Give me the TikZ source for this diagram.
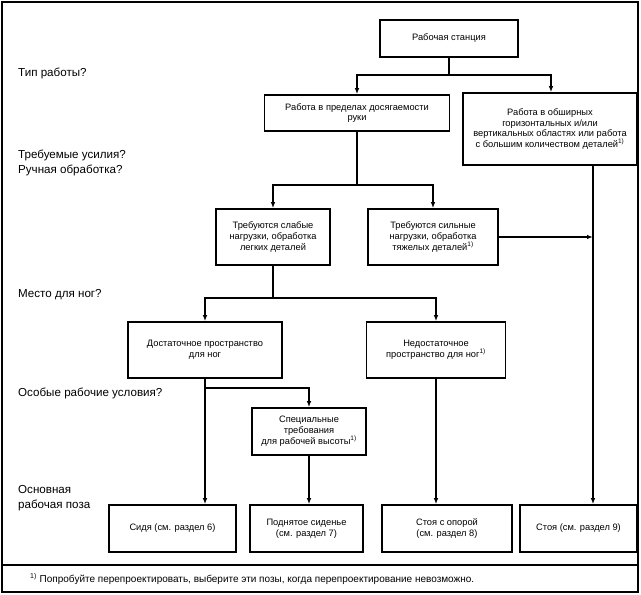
\documentclass[tikz,border=0pt]{standalone}
\usepackage{fontspec}
\setmainfont{Liberation Sans}
\usetikzlibrary{arrows.meta,calc}
\newcommand{\fn}{\textsuperscript{1)}}
\begin{document}
\begin{tikzpicture}[x=1pt,y=-1pt,
  box/.style={draw, line width=1.6pt, align=center, inner sep=2pt,
    font=\fontsize{9.3}{10.8}\selectfont},
  lbl/.style={anchor=west, align=left, inner sep=0pt,
    font=\fontsize{11.6}{14.5}\selectfont},
  conn/.style={line width=1.5pt},
  arr/.style={conn, -{Latex[length=6pt,width=4.5pt]}}]
\useasboundingbox (0,0) rectangle (641,595);
\fill[white] (0,0) rectangle (641,595);
% frame
\draw[line width=1.4pt] (2,2) rectangle (638,592);
\draw[line width=1.4pt] (2,565) -- (638,565);
% boxes
\node[box, minimum width=138pt, minimum height=37pt] (st) at (449,38.5) {Рабочая станция};
\node[box, minimum width=185pt, minimum height=36pt] (b2) at (357,113) {Работа в пределах досягаемости\\руки};
\node[box, minimum width=174pt, minimum height=72pt] (b3) at (550,129) {Работа в обширных\\горизонтальных и/или\\вертикальных областях или работа\\с большим количеством деталей\fn};
\node[box, minimum width=114pt, minimum height=56pt] (lo) at (273,237) {Требуются слабые\\нагрузки, обработка\\легких деталей};
\node[box, minimum width=130pt, minimum height=56pt] (hi) at (433,237) {Требуются сильные\\нагрузки, обработка\\тяжелых деталей\fn};
\node[box, minimum width=154pt, minimum height=56pt] (en) at (205,350) {Достаточное пространство\\для ног};
\node[box, minimum width=139pt, minimum height=56pt] (ne) at (436,350) {Недостаточное\\пространство для ног\fn};
\node[box, minimum width=114pt, minimum height=47pt] (sp) at (309,431.5) {Специальные\\требования\\для рабочей высоты\fn};
\node[box, minimum width=127pt, minimum height=47pt] (s1) at (172.5,528.5) {Сидя (см. раздел 6)};
\node[box, minimum width=113pt, minimum height=47pt] (s2) at (306.5,528.5) {Поднятое сиденье\\(см. раздел 7)};
\node[box, minimum width=130pt, minimum height=47pt] (s3) at (447,528.5) {Стоя с опорой\\(см. раздел 8)};
\node[box, minimum width=117pt, minimum height=47pt] (s4) at (578.5,528.5) {Стоя (см. раздел 9)};
% left labels
\node[lbl] (q1) at (18,73) {Тип работы?};
\node[lbl] (q2) at (18,163) {Требуемые усилия?\\Ручная обработка?};
\node[lbl] (q3) at (18,295) {Место для ног?};
\node[lbl] (q4) at (18,393) {Особые рабочие условия?};
\node[lbl] (q5) at (18,498) {Основная\\рабочая поза};
% footnote
\node[anchor=west, inner sep=0pt, font=\fontsize{10}{12}\selectfont] (foot) at (30,579) {\fn\ Попробуйте перепроектировать, выберите эти позы, когда перепроектирование невозможно.};
% connectors
\coordinate (j1) at (449,75);
\coordinate (j2) at (357,185);
\coordinate (j3) at (273,298);
\coordinate (j4) at (205,388);
\coordinate (v3) at (593,165);
\draw[conn] (st.south) -- (j1);
\draw[arr] (j1) -| (b2.north);
\draw[arr] (j1) -| (b3.north -| 551,0);
\draw[conn] (b2.south) -- (j2);
\draw[arr] (j2) -| (lo.north);
\draw[arr] (j2) -| (hi.north);
\draw[arr] (v3) -- (v3 |- s4.north);
\draw[arr] (hi.east) -- (hi.east -| v3);
\draw[conn] (lo.south) -- (j3);
\draw[arr] (j3) -| (en.north);
\draw[arr] (j3) -| (ne.north);
\draw[conn] (en.south) -- (j4);
\draw[arr] (j4) -| (sp.north);
\draw[arr] (j4) -- (j4 |- s1.north);
\draw[arr] (sp.south) -- (sp.south |- s2.north);
\draw[arr] (ne.south) -- (ne.south |- s3.north);
\end{tikzpicture}
\end{document}
